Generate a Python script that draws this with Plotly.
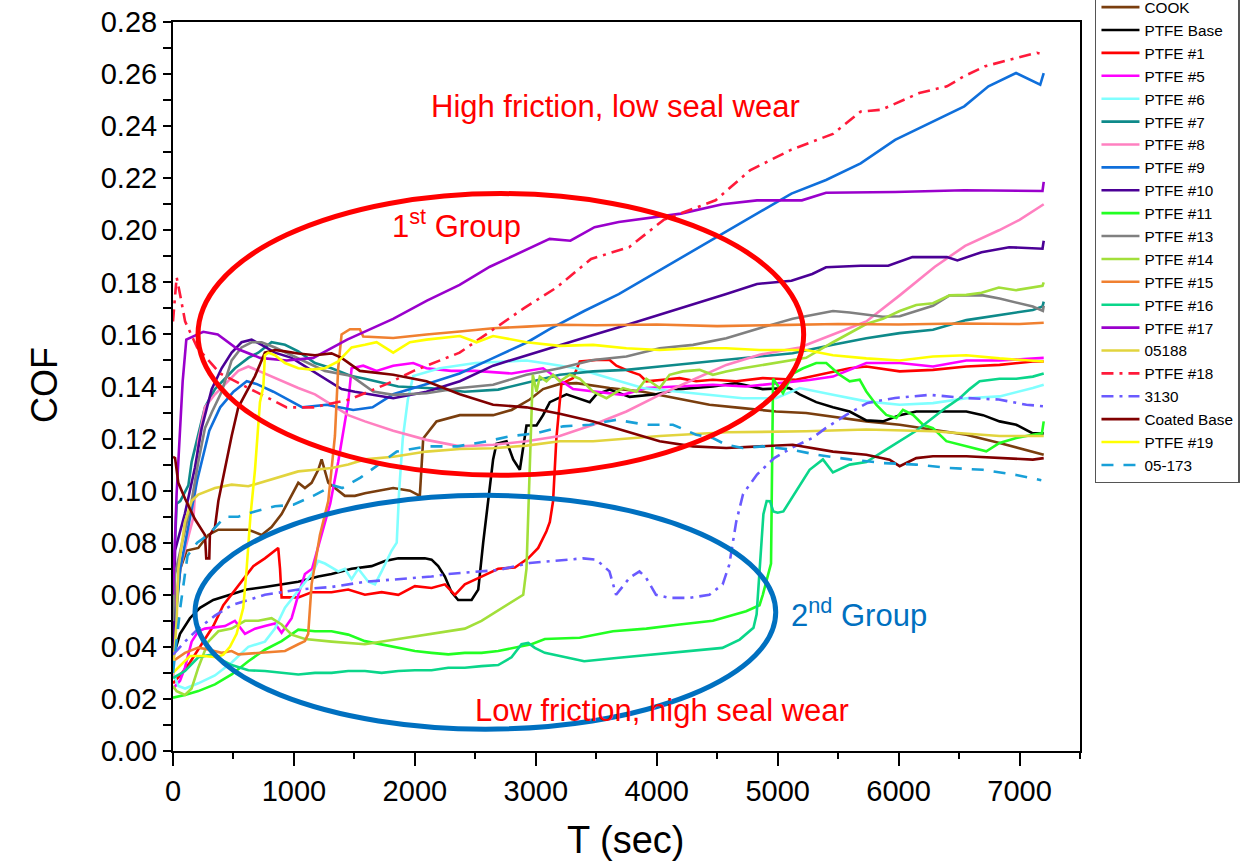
import plotly.graph_objects as go

FONT = "Liberation Sans, Arial, sans-serif"

# ---------------- data ----------------
SERIES_NAMES = ["COOK", "PTFE Base", "PTFE #1", "PTFE #5", "PTFE #6", "PTFE #7", "PTFE #8",
                "PTFE #9", "PTFE #10", "PTFE #11", "PTFE #13", "PTFE #14", "PTFE #15",
                "PTFE #16", "PTFE #17", "05188", "PTFE #18", "3130", "Coated Base",
                "PTFE #19", "05-173"]

T_COOK = [0, 15, 60, 113, 209, 292, 375, 485, 623, 733, 815, 898, 981, 1036, 1091, 1146, 1201, 1229, 1284, 1339,
          1421, 1504, 1587, 1821, 1959, 2041, 2069, 2179, 2289, 2372, 2647, 2800, 2950, 3060, 3200, 3336, 3611, 3886,
          4161, 4436, 4711, 4986, 5235, 5457, 5733, 6009, 6284, 6560, 6835, 7200]
COF_COOK = [0.040, 0.050, 0.070, 0.077, 0.078, 0.083, 0.085, 0.085, 0.085, 0.083, 0.086, 0.091, 0.098, 0.103, 0.101,
            0.103, 0.108, 0.112, 0.103, 0.101, 0.098, 0.098, 0.099, 0.101, 0.100, 0.098, 0.120, 0.1266, 0.128, 0.129,
            0.129, 0.131, 0.135, 0.139, 0.141, 0.1413, 0.1394, 0.138, 0.1355, 0.133, 0.1317, 0.1304, 0.1298, 0.1285,
            0.1266, 0.1253, 0.1234, 0.1215, 0.1183, 0.1138]

T_BASE = [0, 58, 140, 223, 333, 471, 609, 760, 1036, 1201, 1311, 1477, 1642, 1752, 1863, 2083, 2138, 2193, 2248, 2303,
          2358, 2469, 2524, 2565, 2606, 2647, 2675, 2758, 2813, 2868, 2923, 3006, 3060, 3116, 3254, 3446, 3501, 3611,
          3776, 3996, 4188, 4463, 4656, 4876, 5096, 5182, 5319, 5457, 5595, 5733, 5870, 6009, 6146, 6560, 6698, 6835,
          6973, 7110, 7200]
COF_BASE = [0.036, 0.045, 0.051, 0.055, 0.058, 0.060, 0.062, 0.063, 0.065, 0.067, 0.068, 0.070, 0.071, 0.073, 0.074,
            0.074, 0.0735, 0.071, 0.067, 0.061, 0.058, 0.058, 0.062, 0.080, 0.096, 0.112, 0.118, 0.119, 0.112, 0.108,
            0.125, 0.125, 0.129, 0.134, 0.137, 0.134, 0.137, 0.1388, 0.136, 0.137, 0.139, 0.140, 0.1413, 0.139, 0.1394,
            0.137, 0.134, 0.132, 0.1304, 0.127, 0.1266, 0.129, 0.1304, 0.1304, 0.129, 0.1266, 0.1253, 0.122, 0.122]

T_P1 = [0, 58, 140, 250, 333, 416, 498, 581, 664, 760, 843, 870, 885, 898, 1036, 1146, 1311, 1449, 1587, 1725, 1863,
        2000, 2138, 2248, 2331, 2413, 2551, 2689, 2827, 2937, 3020, 3088, 3116, 3143, 3170, 3212, 3308, 3363, 3501,
        3611, 3666, 3776, 3859, 3914, 4051, 4188, 4326, 4463, 4656, 4876, 5151, 5457, 5595, 5733, 6009, 6284, 6560,
        6835, 7110, 7200]
COF_P1 = [0.026, 0.029, 0.034, 0.042, 0.048, 0.056, 0.061, 0.066, 0.071, 0.074, 0.077, 0.078, 0.070, 0.059, 0.059,
          0.061, 0.061, 0.062, 0.060, 0.061, 0.060, 0.0633, 0.0626, 0.064, 0.060, 0.064, 0.067, 0.070, 0.0705, 0.074,
          0.078, 0.0844, 0.088, 0.096, 0.120, 0.141, 0.1432, 0.1496, 0.1502, 0.1502, 0.148, 0.1458, 0.1445, 0.142,
          0.1426, 0.1432, 0.142, 0.1426, 0.142, 0.1432, 0.1426, 0.1458, 0.147, 0.1477, 0.1458, 0.1464, 0.1477,
          0.1483, 0.1496, 0.1496]

T_P5 = [0, 58, 99, 154, 209, 264, 430, 512, 595, 678, 760, 843, 898, 981, 1036, 1091, 1150, 1230, 1300, 1366, 1449,
        1477, 1573, 1683, 1821, 1986, 2096, 2300, 2500, 2800, 3060, 3308, 3500, 3720, 3913, 4188, 4463, 4739, 5014,
        5262, 5457, 5733, 6009, 6284, 6560, 6835, 7200]
COF_P5 = [0.024, 0.027, 0.032, 0.042, 0.046, 0.047, 0.048, 0.050, 0.045, 0.047, 0.048, 0.049, 0.0454, 0.051, 0.060,
          0.068, 0.070, 0.083, 0.095, 0.111, 0.134, 0.147, 0.148, 0.146, 0.148, 0.149, 0.147, 0.146, 0.146, 0.145,
          0.147, 0.139, 0.1381, 0.1368, 0.1394, 0.140, 0.1407, 0.140, 0.1413, 0.1425, 0.1438, 0.149, 0.149, 0.1477,
          0.150, 0.150, 0.151]

T_P6 = [0, 44, 100, 209, 347, 485, 623, 760, 843, 926, 1009, 1091, 1146, 1201, 1256, 1366, 1421, 1477, 1532, 1615,
        1670, 1725, 1808, 1850, 1870, 1900, 1942, 1986, 2207, 2500, 2923, 3060, 3335, 3610, 3885, 4160, 4435, 4711,
        4986, 5182, 5457, 5733, 6009, 6284, 6560, 6835, 7110, 7200]
COF_P6 = [0.030, 0.025, 0.024, 0.026, 0.029, 0.034, 0.040, 0.042, 0.047, 0.055, 0.060, 0.065, 0.068, 0.073, 0.072,
          0.069, 0.070, 0.066, 0.070, 0.065, 0.064, 0.069, 0.077, 0.080, 0.100, 0.120, 0.135, 0.144, 0.147, 0.149,
          0.150, 0.149, 0.147, 0.1432, 0.1394, 0.1381, 0.1368, 0.1355, 0.1355, 0.1394, 0.1368, 0.1343, 0.133, 0.1336,
          0.1355, 0.1362, 0.1394, 0.1407]

T_P7 = [0, 30, 60, 127, 154, 209, 264, 347, 430, 512, 623, 705, 815, 926, 1036, 1174, 1311, 1477, 1587, 1862, 2138,
        2413, 2689, 2964, 3198, 3474, 3749, 4024, 4300, 4575, 4850, 5124, 5457, 5733, 6009, 6284, 6560, 6835, 7110,
        7190, 7200]
COF_P7 = [0.060, 0.095, 0.096, 0.102, 0.111, 0.121, 0.132, 0.139, 0.143, 0.147, 0.151, 0.153, 0.157, 0.156, 0.1535,
          0.149, 0.147, 0.144, 0.143, 0.140, 0.1393, 0.138, 0.1388, 0.1418, 0.1445, 0.1458, 0.1464, 0.1477, 0.149,
          0.1502, 0.1515, 0.1528, 0.156, 0.1585, 0.1605, 0.1618, 0.1655, 0.1675, 0.1694, 0.1707, 0.1726]

T_P8 = [0, 20, 58, 170, 209, 264, 347, 430, 540, 623, 760, 898, 1036, 1174, 1311, 1449, 1587, 1821, 2096, 2372, 2647,
        2923, 3198, 3474, 3749, 4024, 4300, 4575, 4850, 5182, 5457, 5733, 6009, 6300, 6550, 6830, 7000, 7200]
COF_P8 = [0.028, 0.058, 0.070, 0.090, 0.119, 0.132, 0.137, 0.141, 0.146, 0.1477, 0.145, 0.142, 0.1394, 0.137, 0.133,
          0.129, 0.1266, 0.123, 0.1195, 0.117, 0.1176, 0.119, 0.121, 0.1253, 0.1304, 0.1368, 0.1426, 0.1483, 0.1522,
          0.155, 0.160, 0.165, 0.175, 0.186, 0.194, 0.200, 0.204, 0.210]

T_P9 = [0, 60, 200, 300, 390, 500, 610, 690, 830, 1070, 1270, 1490, 1650, 1820, 2100, 2370, 2650, 2930, 3114, 3400,
        3686, 3971, 4257, 4543, 4829, 5114, 5400, 5686, 5971, 6257, 6543, 6743, 6971, 7171, 7200]
COF_P9 = [0.040, 0.070, 0.104, 0.123, 0.132, 0.138, 0.142, 0.141, 0.138, 0.132, 0.133, 0.131, 0.132, 0.137, 0.141,
          0.145, 0.151, 0.157, 0.162, 0.169, 0.1755, 0.1832, 0.191, 0.1987, 0.2064, 0.2141, 0.2193, 0.2257, 0.2347,
          0.2411, 0.2476, 0.2553, 0.2604, 0.2559, 0.2604]

T_P10 = [0, 17, 99, 182, 237, 320, 402, 485, 567, 650, 733, 843, 981, 1118, 1256, 1394, 1504, 1821, 2096, 2372, 2647,
         2923, 3198, 3474, 3749, 4024, 4300, 4575, 4829, 5114, 5286, 5400, 5686, 5914, 6114, 6400, 6486, 6686, 6914,
         7190, 7200]
COF_P10 = [0.035, 0.077, 0.0913, 0.109, 0.124, 0.139, 0.147, 0.153, 0.157, 0.158, 0.156, 0.153, 0.151, 0.147, 0.143,
           0.139, 0.138, 0.1355, 0.138, 0.142, 0.148, 0.152, 0.156, 0.1598, 0.1636, 0.1675, 0.1713, 0.1755, 0.1794,
           0.1806, 0.1832, 0.1858, 0.1864, 0.1864, 0.1897, 0.1897, 0.1884, 0.1916, 0.1935, 0.1929, 0.196]

T_P11 = [0, 99, 209, 347, 485, 623, 760, 898, 1036, 1174, 1311, 1449, 1587, 1725, 1863, 2000, 2138, 2276, 2413, 2551,
         2689, 2827, 2964, 3075, 3363, 3638, 3914, 4189, 4464, 4739, 4850, 4877, 4904, 4945, 4962, 5044, 5072, 5127,
         5210, 5319, 5402, 5512, 5595, 5678, 5733, 5815, 5898, 5981, 6036, 6119, 6202, 6284, 6395, 6505, 6615, 6725,
         6835, 6973, 7110, 7185, 7200]
COF_P11 = [0.0205, 0.0215, 0.023, 0.0256, 0.0294, 0.0345, 0.0389, 0.0422, 0.0466, 0.046, 0.046, 0.0447, 0.0422, 0.041,
           0.0396, 0.0384, 0.0377, 0.0371, 0.0377, 0.0377, 0.0384, 0.0396, 0.041, 0.043, 0.0435, 0.046, 0.047, 0.0486,
           0.050, 0.0537, 0.056, 0.060, 0.065, 0.072, 0.143, 0.1374, 0.140, 0.145, 0.147, 0.149, 0.149, 0.1445, 0.142,
           0.1426, 0.1381, 0.133, 0.1291, 0.1279, 0.131, 0.1291, 0.1253, 0.124, 0.119, 0.1176, 0.1164, 0.1151, 0.1183,
           0.1202, 0.1215, 0.122, 0.1266]

T_P13 = [0, 17, 154, 209, 264, 320, 402, 485, 567, 650, 733, 843, 981, 1118, 1256, 1366, 1477, 1656, 1821, 2096, 2372,
         2647, 2923, 3198, 3474, 3749, 4024, 4300, 4575, 4850, 5124, 5457, 5595, 5870, 6009, 6284, 6422, 6698, 6835,
         7110, 7193, 7200]
COF_P13 = [0.050, 0.068, 0.096, 0.111, 0.124, 0.130, 0.138, 0.150, 0.155, 0.157, 0.157, 0.155, 0.152, 0.149, 0.146,
           0.145, 0.144, 0.1381, 0.1368, 0.1374, 0.1394, 0.1407, 0.1445, 0.147, 0.1502, 0.1515, 0.1547, 0.156, 0.1585,
           0.1624, 0.166, 0.169, 0.1684, 0.1668, 0.167, 0.171, 0.175, 0.175, 0.1738, 0.1707, 0.169, 0.171]

T_P14 = [0, 30, 99, 154, 209, 292, 375, 485, 595, 705, 815, 898, 981, 1091, 1311, 1587, 1863, 2138, 2413, 2551, 2689,
         2827, 2896, 2923, 2937, 2964, 2975, 3006, 3033, 3088, 3143, 3198, 3281, 3363, 3474, 3584, 3721, 3831, 3914,
         4024, 4106, 4216, 4354, 4464, 4574, 4712, 4850, 4987, 5124, 5235, 5457, 5733, 5870, 6009, 6146, 6284, 6422,
         6560, 6686, 6829, 6971, 7190, 7200]
COF_P14 = [0.025, 0.023, 0.0215, 0.024, 0.032, 0.042, 0.046, 0.047, 0.050, 0.050, 0.051, 0.0486, 0.0447, 0.043, 0.042,
           0.041, 0.043, 0.045, 0.047, 0.050, 0.054, 0.058, 0.060, 0.070, 0.090, 0.120, 0.1445, 0.138, 0.1438, 0.142,
           0.1445, 0.142, 0.1445, 0.143, 0.138, 0.1355, 0.1394, 0.138, 0.143, 0.1394, 0.1445, 0.1458, 0.1464, 0.1445,
           0.1458, 0.147, 0.148, 0.149, 0.150, 0.151, 0.157, 0.164, 0.166, 0.169, 0.1713, 0.172, 0.175, 0.1752, 0.176,
           0.178, 0.177, 0.1787, 0.180]

T_P15 = [0, 99, 209, 292, 402, 485, 540, 760, 926, 1036, 1091, 1118, 1146, 1215, 1284, 1339, 1366, 1394, 1463, 1545,
         1573, 1821, 2096, 2372, 2647, 2923, 3198, 3500, 4000, 4500, 5000, 5500, 6000, 6500, 7000, 7200]
COF_P15 = [0.0345, 0.0377, 0.0397, 0.039, 0.0377, 0.0384, 0.0371, 0.0377, 0.0384, 0.041, 0.0422, 0.045, 0.064, 0.083,
           0.096, 0.121, 0.147, 0.160, 0.162, 0.162, 0.1592, 0.1586, 0.160, 0.1611, 0.1624, 0.163, 0.1637, 0.1635,
           0.1638, 0.1632, 0.1636, 0.1640, 0.1638, 0.1642, 0.1640, 0.1645]

T_P16 = [0, 99, 209, 320, 485, 623, 760, 898, 1036, 1174, 1311, 1449, 1587, 1725, 1863, 2000, 2138, 2276, 2413, 2551,
         2689, 2799, 2882, 2937, 2992, 3075, 3400, 3686, 3971, 4257, 4543, 4686, 4800, 4826, 4854, 4882, 4909, 4937,
         4964, 5000, 5047, 5102, 5171, 5264, 5374, 5457, 5595, 5733, 5870, 6009, 6146, 6284, 6395, 6505, 6587, 6670,
         6835, 6973, 7110, 7200]
COF_P16 = [0.028, 0.0307, 0.036, 0.037, 0.033, 0.031, 0.0307, 0.030, 0.0294, 0.030, 0.030, 0.0307, 0.0307, 0.030,
           0.0307, 0.031, 0.031, 0.032, 0.032, 0.0326, 0.033, 0.036, 0.041, 0.0415, 0.0396, 0.0377, 0.0345, 0.0358,
           0.037, 0.0384, 0.0396, 0.0428, 0.0473, 0.0525, 0.073, 0.091, 0.096, 0.0959, 0.092, 0.0915, 0.092, 0.096,
           0.101, 0.108, 0.112, 0.107, 0.110, 0.111, 0.115, 0.119, 0.123, 0.128, 0.132, 0.1355, 0.139, 0.142, 0.143,
           0.143, 0.1438, 0.145]

T_P17 = [0, 30, 80, 110, 250, 370, 530, 720, 940, 1160, 1440, 1820, 2100, 2370, 2620, 2900, 3114, 3286, 3486, 3686,
         3971, 4200, 4543, 4829, 5200, 5400, 5971, 6543, 7190, 7200]
COF_P17 = [0.060, 0.099, 0.142, 0.158, 0.161, 0.160, 0.1545, 0.151, 0.150, 0.151, 0.158, 0.166, 0.173, 0.179, 0.186,
           0.192, 0.1967, 0.196, 0.2012, 0.2032, 0.2051, 0.2064, 0.210, 0.2115, 0.2115, 0.2144, 0.2147, 0.2154, 0.2151,
           0.2186]

T_05188 = [0, 30, 44, 99, 154, 209, 347, 485, 623, 760, 898, 1036, 1174, 1311, 1449, 1587, 1821, 2096, 2372, 2647, 2923,
           3198, 3474, 4024, 4575, 5235, 5733, 6284, 6835, 7200]
COF_05188 = [0.030, 0.050, 0.070, 0.088, 0.096, 0.0985, 0.101, 0.1023, 0.1017, 0.1036, 0.1055, 0.1074, 0.108, 0.1087,
             0.110, 0.112, 0.113, 0.115, 0.116, 0.1163, 0.1173, 0.119, 0.119, 0.121, 0.1224, 0.1228, 0.1235, 0.1228,
             0.121, 0.121]

T_P18 = [0, 30, 60, 100, 200, 390, 640, 940, 1160, 1460, 1770, 1990, 2370, 2650, 2900, 3171, 3457, 3771, 4057, 4486,
         4771, 5114, 5457, 5686, 5857, 6171, 6400, 6543, 6714, 7143, 7200]
COF_P18 = [0.165, 0.182, 0.175, 0.165, 0.155, 0.145, 0.139, 0.132, 0.132, 0.135, 0.141, 0.146, 0.153, 0.162, 0.170,
           0.178, 0.189, 0.1935, 0.204, 0.2115, 0.223, 0.231, 0.237, 0.2456, 0.2463, 0.2527, 0.2553, 0.2592, 0.263,
           0.2682, 0.2675]

T_3130 = [0, 99, 209, 347, 485, 760, 1036, 1311, 1587, 1863, 2138, 2276, 2551, 2689, 2950, 3391, 3500, 3609, 3664, 3775,
          3857, 3912, 3994, 4105, 4270, 4435, 4545, 4600, 4657, 4714, 4829, 4971, 5114, 5286, 5400, 5571, 5743, 5971,
          6257, 6543, 6829, 7057, 7200]
COF_3130 = [0.037, 0.042, 0.047, 0.052, 0.056, 0.060, 0.062, 0.063, 0.065, 0.0659, 0.067, 0.068, 0.069, 0.0695, 0.0722,
            0.074, 0.0735, 0.069, 0.060, 0.0665, 0.069, 0.0665, 0.060, 0.0588, 0.0588, 0.060, 0.064, 0.0716, 0.088,
            0.0987, 0.1062, 0.1125, 0.1164, 0.1202, 0.1241, 0.1292, 0.1337, 0.1356, 0.1368, 0.1356, 0.135, 0.133,
            0.1324]

T_COATED = [0, 17, 44, 99, 182, 264, 275, 300, 305, 347, 375, 430, 485, 540, 595, 678, 760, 843, 926, 1036, 1174, 1311,
            1394, 1545, 1821, 2096, 2372, 2647, 2923, 3198, 3474, 3749, 4024, 4300, 4575, 4850, 5124, 5457, 5733, 5925,
            6009, 6146, 6284, 6560, 6835, 7110, 7200]
COF_COATED = [0.113, 0.1125, 0.103, 0.097, 0.089, 0.083, 0.074, 0.074, 0.083, 0.086, 0.096, 0.109, 0.121, 0.132, 0.137,
              0.144, 0.153, 0.154, 0.1535, 0.1527, 0.152, 0.1527, 0.151, 0.146, 0.1445, 0.142, 0.137, 0.133, 0.132,
              0.1295, 0.1266, 0.1228, 0.119, 0.117, 0.1164, 0.117, 0.1176, 0.115, 0.1138, 0.1119, 0.1094, 0.1125,
              0.1132, 0.1132, 0.1125, 0.1119, 0.1125]

T_P19 = [0, 58, 140, 250, 361, 416, 471, 526, 581, 609, 640, 678, 719, 747, 760, 788, 843, 926, 1036, 1146, 1256, 1366,
         1477, 1587, 1683, 1821, 1959, 2096, 2372, 2510, 2647, 2923, 3198, 3474, 3749, 4024, 4300, 4575, 4850, 5235,
         5457, 5733, 6009, 6284, 6560, 6835, 7200]
COF_P19 = [0.030, 0.0326, 0.0365, 0.0365, 0.036, 0.037, 0.040, 0.045, 0.055, 0.070, 0.090, 0.108, 0.134, 0.140, 0.152,
           0.153, 0.152, 0.149, 0.147, 0.1465, 0.147, 0.1496, 0.155, 0.156, 0.157, 0.153, 0.157, 0.158, 0.1594, 0.157,
           0.1594, 0.157, 0.1556, 0.156, 0.1547, 0.154, 0.1547, 0.1547, 0.154, 0.154, 0.152, 0.1508, 0.150, 0.1515,
           0.152, 0.1508, 0.1496]

T_05173 = [0, 60, 120, 200, 292, 430, 540, 678, 843, 995, 1160, 1325, 1400, 1550, 1700, 1850, 2100, 2350, 2600, 2800,
           3000, 3226, 3446, 3666, 3914, 4134, 4326, 4464, 4574, 4711, 4876, 5124, 5319, 5595, 5870, 6146, 6422, 6698,
           6973, 7180]
COF_05173 = [0.030, 0.055, 0.075, 0.080, 0.083, 0.090, 0.090, 0.092, 0.094, 0.0946, 0.098, 0.102, 0.101, 0.105, 0.110,
             0.115, 0.117, 0.117, 0.119, 0.121, 0.122, 0.1247, 0.1253, 0.1272, 0.1253, 0.1253, 0.1215, 0.1202, 0.1176,
             0.1164, 0.117, 0.1157, 0.1138, 0.112, 0.1106, 0.110, 0.1087, 0.108, 0.106, 0.104]

X_TICKS = [0, 1000, 2000, 3000, 4000, 5000, 6000, 7000]
Y_TICKS = [0.00, 0.02, 0.04, 0.06, 0.08, 0.10, 0.12, 0.14, 0.16, 0.18, 0.20, 0.22, 0.24, 0.26, 0.28]

# ---------------- styles ----------------
DASHDOT = "12px,6px,3px,6px"
DASH = "12px,10px"
STYLES = {
    "COOK": ("#7A3E0E", "solid"),
    "PTFE Base": ("#000000", "solid"),
    "PTFE #1": ("#FF0000", "solid"),
    "PTFE #5": ("#FF00FF", "solid"),
    "PTFE #6": ("#80FFFF", "solid"),
    "PTFE #7": ("#0E8A8A", "solid"),
    "PTFE #8": ("#FF80C0", "solid"),
    "PTFE #9": ("#0F6FDB", "solid"),
    "PTFE #10": ("#4B0096", "solid"),
    "PTFE #11": ("#22FF22", "solid"),
    "PTFE #13": ("#808080", "solid"),
    "PTFE #14": ("#A2DF3A", "solid"),
    "PTFE #15": ("#F08030", "solid"),
    "PTFE #16": ("#0AD68A", "solid"),
    "PTFE #17": ("#9A00CC", "solid"),
    "05188": ("#E2D43E", "solid"),
    "PTFE #18": ("#FF1A3A", DASHDOT),
    "3130": ("#6A5AFF", DASHDOT),
    "Coated Base": ("#800000", "solid"),
    "PTFE #19": ("#FFFF00", "solid"),
    "05-173": ("#18A0D8", DASH),
}

DATA = {
    "COOK": (T_COOK, COF_COOK), "PTFE Base": (T_BASE, COF_BASE), "PTFE #1": (T_P1, COF_P1),
    "PTFE #5": (T_P5, COF_P5), "PTFE #6": (T_P6, COF_P6), "PTFE #7": (T_P7, COF_P7),
    "PTFE #8": (T_P8, COF_P8), "PTFE #9": (T_P9, COF_P9), "PTFE #10": (T_P10, COF_P10),
    "PTFE #11": (T_P11, COF_P11), "PTFE #13": (T_P13, COF_P13), "PTFE #14": (T_P14, COF_P14),
    "PTFE #15": (T_P15, COF_P15), "PTFE #16": (T_P16, COF_P16), "PTFE #17": (T_P17, COF_P17),
    "05188": (T_05188, COF_05188), "PTFE #18": (T_P18, COF_P18), "3130": (T_3130, COF_3130),
    "Coated Base": (T_COATED, COF_COATED), "PTFE #19": (T_P19, COF_P19), "05-173": (T_05173, COF_05173),
}

fig = go.Figure()
for name in SERIES_NAMES:
    t, v = DATA[name]
    color, dash = STYLES[name]
    fig.add_trace(go.Scatter(x=t, y=v, mode="lines", name=name,
                             line=dict(color=color, width=2.6, dash=dash)))

X_RANGE = [0, 7500]
Y_RANGE = [0, 0.28]

fig.update_layout(
    width=1254, height=864,
    paper_bgcolor="white", plot_bgcolor="white",
    margin=dict(l=173, r=174, t=22, b=113, autoexpand=False),
    font=dict(family=FONT, color="black"),
    showlegend=True,
    legend=dict(x=1.0165, y=1.045, xanchor="left", yanchor="top",
                bgcolor="white", bordercolor="#555555", borderwidth=1.5,
                font=dict(family=FONT, size=15.3, color="black"),
                itemwidth=38, tracegroupgap=0, maxheight=800),
    xaxis=dict(range=X_RANGE, tickvals=X_TICKS, ticks="outside", ticklen=13, tickwidth=2,
               tickcolor="black", showline=True, linecolor="black", linewidth=2, mirror=True,
               showgrid=False, zeroline=False,
               tickfont=dict(family=FONT, size=29, color="black"),
               minor=dict(dtick=500, tick0=0, ticks="outside", ticklen=6, tickwidth=2, tickcolor="black")),
    yaxis=dict(range=Y_RANGE, tickvals=Y_TICKS, tickformat=".2f", ticks="outside", ticklen=8, tickwidth=2,
               tickcolor="black", showline=True, linecolor="black", linewidth=2, mirror=True,
               showgrid=False, zeroline=False,
               tickfont=dict(family=FONT, size=29, color="black"),
               minor=dict(dtick=0.01, tick0=0, ticks="outside", ticklen=8, tickwidth=2, tickcolor="black")),
    xaxis2=dict(range=X_RANGE, overlaying="x", side="top", anchor="y", tickvals=X_TICKS,
                ticks="inside", ticklen=12, tickwidth=2, tickcolor="black",
                showticklabels=False, showgrid=False, zeroline=False, showline=False,
                minor=dict(dtick=500, tick0=0, ticks="inside", ticklen=6, tickwidth=2, tickcolor="black")),
    yaxis2=dict(range=Y_RANGE, overlaying="y", side="right", anchor="x", tickvals=Y_TICKS,
                ticks="inside", ticklen=13, tickwidth=2, tickcolor="black",
                showticklabels=False, showgrid=False, zeroline=False, showline=False,
                minor=dict(dtick=0.01, tick0=0, ticks="inside", ticklen=13, tickwidth=2, tickcolor="black")),
)

# group ellipses
fig.add_shape(type="circle", xref="x", yref="y", x0=207, x1=5215, y0=0.1059, y1=0.2141,
              line=dict(color="#FF0000", width=5), layer="above")
fig.add_shape(type="circle", xref="x", yref="y", x0=182, x1=4984, y0=0.0084, y1=0.0982,
              line=dict(color="#0070C0", width=5), layer="above")

# annotations
ANN = dict(showarrow=False, xanchor="center", yanchor="middle")
fig.add_annotation(x=3661, y=0.2474, xref="x", yref="y", text="High friction, low seal wear",
                   font=dict(family=FONT, size=31, color="#FF0000"), **ANN)
fig.add_annotation(x=2347, y=0.2025, xref="x", yref="y", text="1<sup>st</sup> Group",
                   font=dict(family=FONT, size=31, color="#FF0000"), **ANN)
fig.add_annotation(x=5669, y=0.0529, xref="x", yref="y", text="2<sup>nd</sup> Group",
                   font=dict(family=FONT, size=31, color="#0070C0"), **ANN)
fig.add_annotation(x=4041, y=0.0157, xref="x", yref="y", text="Low friction, high seal wear",
                   font=dict(family=FONT, size=31, color="#FF0000"), **ANN)

# axis titles (pixel positions converted to paper coordinates)
def px_to_paper(px, py):
    return (px - 173) / 907.0, (751 - py) / 729.0

cx, cy = px_to_paper(45, 385)
fig.add_annotation(x=cx, y=cy, xref="paper", yref="paper", text="COF", textangle=-90,
                   font=dict(family=FONT, size=36, color="black"), **ANN)
tx, ty = px_to_paper(626, 840)
fig.add_annotation(x=tx, y=ty, xref="paper", yref="paper", text="T (sec)",
                   font=dict(family=FONT, size=38, color="black"), **ANN)

fig.write_html("out.html")
